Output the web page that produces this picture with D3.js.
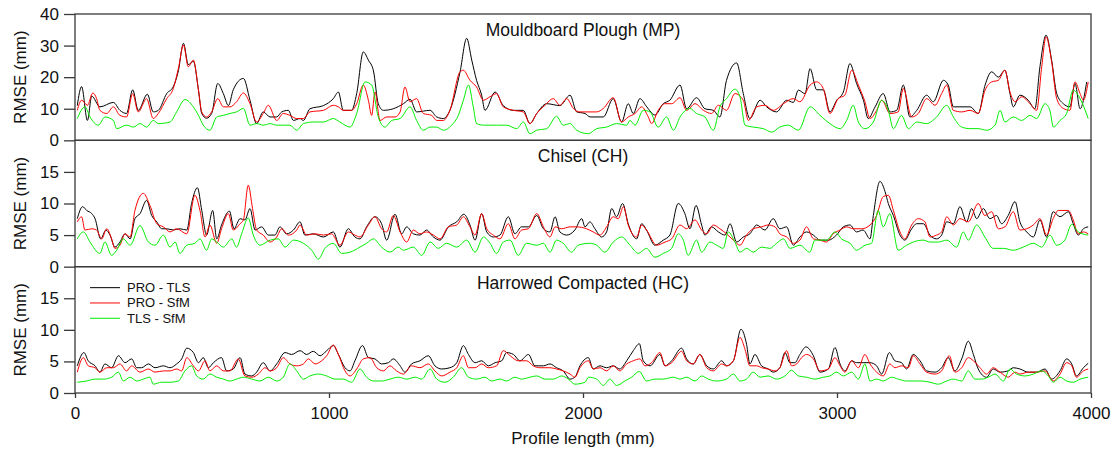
<!DOCTYPE html>
<html>
<head>
<meta charset="utf-8">
<script src="https://cdn.jsdelivr.net/npm/d3@7"></script>
<style>
  body { margin: 0; background: #fff; }
  text { font-family: "Liberation Sans", Arial, sans-serif; fill: #111; }
</style>
</head>
<body>
<svg id="chart" width="1113" height="450"></svg>
<script>
// RMSE along the profile, [position (mm), rmse (mm)]

// Mouldboard Plough (MP)
const mpProTls = [[9,11],[26,17],[49,6.3],[66,14],[98,10.6],[151,12],[177,9.5],[203,8.5],[227,16],[249,9.5],[285,14.6],[308,9],[328,9.5],[361,14.8],[387,17],[407,22],[427,30.7],[446,24],[466,25],[486,16],[499,8.5],[518,7],[538,8.5],[562,18],[584,14.8],[604,11],[623,16],[663,19.6],[689,12.7],[715,5.3],[741,9],[768,7.4],[794,7.4],[814,9],[840,9.5],[860,6.3],[886,6.9],[899,6.3],[925,10],[978,11],[1017,13.2],[1037,15.3],[1056,9.5],[1089,9.5],[1109,14.8],[1135,28],[1155,25.4],[1175,22],[1194,11.6],[1214,9.5],[1253,10],[1293,11.6],[1319,13],[1345,9],[1398,9.5],[1424,7.4],[1450,6.9],[1476,9.5],[1516,21.7],[1542,32.3],[1562,25.4],[1581,19],[1601,14.3],[1614,9.5],[1654,15.3],[1686,11],[1726,9.5],[1765,9.5],[1791,5.3],[1818,8.5],[1857,11.6],[1909,11],[1949,14.3],[1975,9],[2008,8.5],[2028,7.4],[2080,7.4],[2119,13.2],[2152,5.8],[2178,11.6],[2198,8.5],[2224,13.2],[2251,10.6],[2283,8],[2316,11.6],[2342,12.7],[2382,17.5],[2408,10],[2447,13.5],[2480,10],[2513,9.5],[2539,7.4],[2565,19],[2605,24.5],[2631,14.8],[2657,6.9],[2697,12.7],[2723,10.6],[2762,9],[2802,12.7],[2828,12],[2848,15.9],[2874,14.8],[2894,22.7],[2920,16],[2946,16],[2972,9],[2999,12.7],[3025,15.3],[3051,24.3],[3077,18],[3104,12.7],[3123,6.9],[3150,10.6],[3182,14.8],[3209,9],[3235,9.5],[3261,17.5],[3287,7.4],[3314,9.5],[3353,14.3],[3379,12.2],[3419,19],[3438,17.5],[3458,10.6],[3484,10.6],[3524,10.6],[3556,8.5],[3583,17.5],[3609,21.7],[3635,20],[3661,22.2],[3681,14.8],[3694,10.6],[3720,14.3],[3753,12.7],[3779,10],[3799,23.3],[3823,33.3],[3845,25.4],[3865,14.8],[3891,11.6],[3917,10.6],[3937,18],[3957,10],[3983,18.5]];
const mpProSfm = [[9,9.5],[26,12.7],[49,11.1],[70,15],[85,13.2],[98,9.5],[125,8.5],[151,10.6],[177,7.9],[203,7.4],[227,14.8],[249,9],[282,13.2],[308,6.9],[328,8.5],[361,13.2],[387,16.4],[407,22.8],[427,30.2],[446,23.3],[466,25.4],[486,15.9],[499,9],[518,7.4],[538,9],[562,13.2],[584,10.6],[610,10.6],[636,12.2],[663,15],[689,11.6],[715,5.8],[741,8.5],[761,11.1],[794,6.3],[820,8.5],[846,7.9],[873,6.9],[899,6.9],[925,9],[978,9.5],[1017,11.1],[1037,10.6],[1056,9.5],[1089,9.5],[1109,11.6],[1135,17.5],[1155,12.7],[1168,7.9],[1181,15.3],[1201,6.3],[1227,7.4],[1260,7.4],[1280,9],[1299,16.9],[1319,12.2],[1345,13.2],[1371,8.5],[1404,7.9],[1424,6.3],[1450,6.3],[1476,9.5],[1516,21.7],[1529,22.2],[1555,19],[1581,16.9],[1608,12.7],[1634,13.8],[1660,14.8],[1686,10.6],[1726,9.5],[1765,9],[1791,5.3],[1818,8.5],[1850,11.1],[1883,13.2],[1909,11.1],[1936,13.2],[1962,10.1],[1988,9],[2014,9],[2054,9],[2080,10.1],[2119,13.5],[2152,5.8],[2178,7.4],[2205,8.5],[2231,10.6],[2257,7.4],[2270,5.3],[2296,9.5],[2323,11.6],[2349,11.6],[2382,13.5],[2408,9.5],[2441,11.6],[2474,9.5],[2506,8.5],[2533,11.1],[2565,9.5],[2598,14.8],[2631,12.7],[2651,6.3],[2684,10.6],[2716,11.1],[2749,9.5],[2789,11.6],[2828,13.2],[2854,12.2],[2894,17.5],[2920,18.5],[2946,16.4],[2972,8.5],[3005,13.2],[3031,14.3],[3058,22.2],[3084,17.5],[3110,12.2],[3130,6.9],[3156,9.5],[3176,12.7],[3209,8.5],[3241,9],[3261,16.4],[3294,7.4],[3320,8.5],[3353,13.2],[3386,11.1],[3412,14.8],[3432,17.5],[3458,9.5],[3491,9],[3524,9.5],[3556,8.5],[3583,15.9],[3609,18.5],[3635,19],[3661,22.2],[3681,15.3],[3701,12.2],[3727,13.8],[3760,11.6],[3786,9.5],[3806,23.3],[3823,32.8],[3845,24.9],[3865,13.2],[3891,10.1],[3917,9.5],[3937,18.5],[3957,14.8],[3970,12.7],[3989,18.5]];
const mpTlsSfm = [[9,6.9],[39,10.6],[59,7.4],[92,4.8],[118,7.4],[151,6.3],[164,3.7],[203,4.8],[230,4.2],[256,5.3],[282,4.2],[308,6.3],[328,5.3],[374,5.8],[400,9],[433,12.9],[466,10.6],[486,7.9],[505,4.8],[531,3.2],[558,7.4],[584,7.9],[610,8.5],[636,9],[663,10.1],[689,4.8],[715,5.3],[741,4.8],[768,5.3],[794,4.8],[820,4.8],[846,4.8],[873,3.2],[899,5.3],[938,5.8],[978,5.8],[1017,6.9],[1043,5.8],[1083,4.2],[1109,8.5],[1142,18.5],[1168,17.5],[1194,7.4],[1220,4.2],[1247,6.3],[1280,6.9],[1319,10.6],[1345,6.3],[1371,3.2],[1398,4.2],[1424,4.2],[1450,3.2],[1483,4.8],[1509,7.9],[1529,12.7],[1549,17.5],[1568,10.6],[1581,5.3],[1608,4.8],[1660,4.8],[1699,4.8],[1739,3.7],[1765,5.8],[1791,2.1],[1818,3.2],[1857,3.7],[1896,7.6],[1922,4.8],[1949,5.3],[1975,3.2],[2021,2.1],[2054,3.7],[2093,4.2],[2132,5.3],[2172,4.8],[2185,6.3],[2205,4.8],[2237,9.5],[2264,9],[2296,4.2],[2329,7.4],[2356,3.2],[2382,7.4],[2421,10.1],[2447,8.5],[2480,7.4],[2513,3.2],[2539,10.6],[2565,13.2],[2598,16.2],[2618,13.8],[2638,4.8],[2670,4.2],[2710,3.7],[2743,2.6],[2775,4.2],[2808,4.8],[2848,3.2],[2894,10.6],[2933,7.9],[2972,5.3],[3012,3.7],[3038,6.3],[3064,11.1],[3084,5.8],[3110,3.7],[3143,5.8],[3176,12.7],[3202,9.5],[3222,3.7],[3254,7.9],[3281,3.7],[3314,5.8],[3353,5.3],[3392,7.4],[3432,11.1],[3458,7.4],[3491,4.2],[3524,3.7],[3556,3.7],[3589,3.2],[3622,4.8],[3642,9.5],[3661,5.8],[3694,7.4],[3727,6.3],[3760,7.9],[3786,6.9],[3819,11.6],[3838,9.5],[3852,4.2],[3878,6.3],[3904,8.5],[3930,15.9],[3957,13.2],[3989,6.9]];

// Chisel (CH)
const chProTls = [[9,7.6],[30,9.5],[46,8.9],[66,8.4],[79,7.6],[101,4.4],[122,5.8],[138,5.0],[157,3.1],[177,3.9],[197,5.2],[217,4.4],[236,7.6],[256,8.4],[282,10.5],[302,8.1],[322,7.1],[341,6.0],[361,6.0],[387,5.8],[413,6.0],[440,5.8],[459,10],[482,12.5],[499,8.9],[518,5.0],[542,8.9],[558,4.4],[577,6.6],[608,8.8],[626,6.0],[650,7.6],[669,7.4],[689,9.2],[709,5.8],[735,6.3],[761,5.0],[787,5.0],[807,6.3],[833,5.2],[860,5.8],[886,7.1],[905,5.0],[938,5.2],[978,4.7],[1017,5.5],[1043,3.1],[1076,6.0],[1102,4.7],[1122,4.4],[1148,6.3],[1181,7.9],[1207,6.8],[1227,4.2],[1260,8.3],[1286,5.2],[1306,6.3],[1332,5.2],[1358,5.0],[1384,5.8],[1411,4.7],[1437,4.2],[1470,6.3],[1503,7.1],[1531,8.3],[1555,6.6],[1575,4.2],[1601,8.4],[1621,5.5],[1647,4.7],[1673,5.0],[1706,7.9],[1732,5.2],[1758,6.3],[1785,6.3],[1818,8.1],[1844,6.0],[1870,5.5],[1890,7.9],[1909,5.5],[1936,5.0],[1968,5.8],[1995,7.6],[2008,6.3],[2027,7.1],[2047,6.0],[2073,4.7],[2093,5.5],[2113,9.2],[2132,7.9],[2156,10],[2178,6.8],[2211,4.4],[2231,6.8],[2250,5.8],[2283,3.4],[2316,4.2],[2342,5.0],[2375,10],[2401,8.4],[2421,6.0],[2445,9.7],[2467,6.6],[2480,5.0],[2506,6.3],[2533,5.5],[2559,5.0],[2579,6.8],[2605,3.9],[2631,4.7],[2657,5.2],[2684,6.6],[2716,5.8],[2749,7.6],[2775,6.0],[2802,6.3],[2828,3.4],[2854,4.7],[2880,5.5],[2907,5.0],[2933,4.2],[2966,4.2],[2998,5.0],[3025,6.3],[3051,6.6],[3077,5.5],[3103,5.8],[3130,4.4],[3143,8.1],[3169,13.5],[3189,11.9],[3202,10],[3222,8.1],[3248,5.0],[3267,4.2],[3294,6.0],[3313,6.8],[3340,6.8],[3366,5.0],[3392,4.4],[3412,5.0],[3432,7.1],[3458,6.8],[3484,9.5],[3510,7.1],[3530,9.2],[3550,7.6],[3576,9.2],[3602,7.6],[3628,8.1],[3648,6.8],[3674,8.1],[3701,10.3],[3720,7.1],[3747,5.5],[3773,4.7],[3799,7.4],[3825,4.7],[3851,8.7],[3878,7.9],[3911,8.7],[3930,6.8],[3950,5.0],[3970,6.0],[3989,6.3]];
const chProSfm = [[9,7.1],[26,7.9],[39,5.8],[66,6.0],[85,5.8],[105,4.4],[125,6.0],[144,4.4],[157,2.9],[177,3.4],[197,5.2],[217,4.7],[236,8.9],[269,11.6],[295,9.7],[322,6.8],[348,6.3],[374,5.5],[400,6.0],[440,5.2],[472,11.3],[492,8.9],[512,4.7],[531,6.6],[558,3.7],[577,6.0],[604,8.4],[623,5.8],[650,6.8],[663,7.4],[682,12.9],[699,9.2],[715,5.8],[741,5.0],[768,3.9],[794,4.7],[814,6.0],[840,5.0],[873,5.8],[886,6.6],[912,5.0],[945,5.2],[978,5.0],[1010,5.2],[1043,3.4],[1076,5.5],[1102,5.0],[1122,4.7],[1155,6.6],[1181,7.9],[1207,6.0],[1227,5.5],[1253,8.1],[1280,5.5],[1306,3.9],[1332,5.8],[1358,5.2],[1384,5.5],[1411,5.0],[1437,4.4],[1470,6.3],[1503,6.6],[1529,7.9],[1555,6.3],[1575,5.0],[1601,8.4],[1621,6.0],[1647,5.0],[1673,4.4],[1706,6.8],[1732,4.4],[1758,5.8],[1785,6.0],[1818,8.4],[1844,6.3],[1870,4.7],[1890,6.3],[1916,6.0],[1949,6.3],[1975,6.3],[2014,6.0],[2040,5.5],[2067,5.0],[2093,6.3],[2119,7.9],[2139,7.6],[2159,9.5],[2178,6.6],[2211,4.7],[2231,6.6],[2250,5.8],[2290,3.4],[2323,3.9],[2349,4.4],[2382,6.6],[2408,6.0],[2441,7.4],[2467,5.8],[2487,5.2],[2513,6.6],[2539,6.0],[2565,5.2],[2592,4.2],[2618,3.4],[2644,5.0],[2670,6.0],[2703,6.3],[2729,6.6],[2756,6.3],[2775,5.2],[2802,4.7],[2828,3.7],[2854,4.2],[2880,6.3],[2907,4.4],[2933,4.2],[2959,3.9],[2985,5.2],[3012,5.8],[3038,6.3],[3064,6.0],[3097,6.0],[3130,6.6],[3156,8.1],[3182,11.1],[3202,11.3],[3222,8.9],[3248,5.5],[3267,4.4],[3294,6.6],[3320,7.6],[3346,7.1],[3366,4.7],[3392,5.0],[3412,5.5],[3432,7.9],[3458,6.6],[3484,7.6],[3517,7.1],[3556,10],[3582,8.1],[3609,8.7],[3635,6.0],[3661,6.3],[3694,8.7],[3720,5.8],[3747,6.0],[3773,6.6],[3799,7.6],[3825,5.0],[3851,7.6],[3871,8.9],[3911,8.9],[3930,7.4],[3950,5.2],[3970,5.5],[3989,5.2]];
const chTlsSfm = [[9,4.4],[33,5.5],[59,3.9],[98,2.1],[118,3.9],[144,1.8],[164,2.6],[190,4.4],[217,3.4],[256,6.5],[289,3.9],[315,3.4],[348,5.0],[374,3.1],[394,3.9],[413,2.1],[440,3.4],[472,3.7],[492,4.4],[518,2.6],[538,4.4],[558,3.9],[584,3.1],[617,4.4],[636,3.1],[656,5.2],[682,7.7],[702,5.0],[728,3.4],[768,4.2],[800,4.4],[827,3.1],[860,4.2],[899,3.7],[932,2.6],[958,1.2],[984,2.9],[1017,3.7],[1050,2.1],[1083,2.3],[1122,3.1],[1148,3.7],[1175,4.4],[1207,3.1],[1240,2.3],[1273,3.1],[1293,2.6],[1332,3.1],[1365,1.8],[1398,3.9],[1430,2.9],[1463,3.7],[1503,3.1],[1542,4.2],[1575,2.3],[1608,4.7],[1634,3.7],[1660,2.1],[1686,3.9],[1713,4.2],[1745,1.8],[1778,3.7],[1818,3.4],[1844,3.7],[1870,2.3],[1896,4.2],[1922,3.7],[1955,2.3],[1981,3.4],[2027,3.7],[2054,3.4],[2086,2.3],[2119,3.9],[2152,4.7],[2185,3.4],[2218,2.1],[2250,2.9],[2283,1.5],[2316,2.1],[2349,2.9],[2375,5.2],[2395,4.2],[2414,1.8],[2447,4.2],[2467,2.3],[2500,3.9],[2526,3.4],[2552,2.9],[2572,5.5],[2598,3.9],[2618,2.3],[2644,2.9],[2670,2.3],[2703,3.1],[2736,2.9],[2762,3.7],[2789,4.4],[2815,2.9],[2854,3.4],[2893,2.3],[2913,4.2],[2959,4.2],[2992,5.5],[3018,4.4],[3051,3.7],[3077,2.6],[3110,3.4],[3136,3.7],[3162,8.9],[3182,6.3],[3208,8.4],[3241,2.6],[3274,3.4],[3300,3.9],[3340,4.2],[3366,3.9],[3399,3.9],[3432,4.2],[3471,3.1],[3497,5.5],[3517,4.2],[3550,6.6],[3582,4.7],[3615,2.9],[3655,2.9],[3694,2.6],[3733,3.1],[3773,3.7],[3806,3.1],[3838,5.0],[3865,3.4],[3897,4.2],[3924,6.7],[3950,5.5],[3989,5.0]];

// Harrowed Compacted (HC)
const hcProTls = [[9,4.3],[35,6.4],[52,5.1],[79,4.3],[98,3.3],[118,4.6],[144,4.0],[171,5.9],[197,4.8],[223,5.4],[243,4.0],[262,4.0],[289,4.6],[315,4.0],[348,4.3],[374,4.0],[400,4.6],[420,5.4],[440,7.1],[466,6.4],[486,4.8],[505,5.6],[525,4.0],[545,4.8],[577,5.6],[597,3.5],[623,3.8],[650,5.6],[669,3.0],[696,2.7],[715,3.3],[741,4.8],[768,3.5],[794,4.6],[827,6.4],[853,6.1],[886,6.7],[912,6.1],[938,6.6],[965,5.9],[991,6.7],[1017,7.5],[1037,6.1],[1063,4.0],[1083,3.5],[1102,5.1],[1132,7.5],[1155,5.6],[1181,5.4],[1207,4.6],[1234,4.8],[1253,5.4],[1280,4.3],[1299,3.3],[1325,4.6],[1358,5.1],[1391,5.9],[1417,4.3],[1444,3.8],[1476,4.0],[1503,4.8],[1529,7.5],[1549,6.1],[1575,4.8],[1601,5.1],[1627,4.3],[1654,4.8],[1680,5.1],[1699,6.4],[1726,6.1],[1752,5.1],[1785,6.1],[1811,4.3],[1844,4.3],[1870,4.6],[1896,4.0],[1922,3.5],[1949,2.2],[1968,2.5],[1988,4.3],[2021,5.6],[2040,3.8],[2067,4.3],[2093,4.0],[2119,4.3],[2145,3.8],[2172,5.1],[2198,6.7],[2222,7.8],[2237,5.1],[2264,4.3],[2303,6.1],[2323,4.3],[2349,5.1],[2388,7.1],[2408,5.4],[2434,4.6],[2460,6.1],[2487,4.3],[2513,3.8],[2546,5.1],[2565,4.3],[2592,5.1],[2622,10.1],[2644,7.7],[2657,4.6],[2677,6.1],[2703,4.3],[2729,3.8],[2749,3.3],[2775,4.0],[2795,6.4],[2815,4.8],[2834,4.8],[2854,6.1],[2878,7.3],[2907,5.9],[2933,3.3],[2966,3.8],[2992,7.2],[3012,4.6],[3031,3.5],[3058,5.1],[3077,4.8],[3103,4.8],[3130,4.8],[3156,4.3],[3176,3.0],[3206,6.4],[3228,5.1],[3254,4.8],[3274,3.8],[3300,6.1],[3327,5.1],[3353,3.5],[3386,3.3],[3412,4.0],[3438,5.6],[3464,3.5],[3491,5.4],[3517,8.2],[3537,6.1],[3556,3.8],[3589,2.5],[3615,3.8],[3642,3.3],[3674,3.5],[3694,4.0],[3720,3.8],[3753,3.3],[3786,3.3],[3819,3.8],[3845,2.2],[3878,3.5],[3904,5.4],[3924,4.6],[3943,2.7],[3970,4.0],[3989,4.7]];
const hcProSfm = [[9,3.3],[33,5.6],[52,4.3],[79,4.0],[98,3.3],[125,4.0],[151,4.0],[177,4.6],[203,3.5],[223,4.3],[256,3.3],[289,3.8],[315,3.3],[348,3.5],[374,3.5],[400,3.8],[420,3.5],[440,5.6],[466,4.3],[486,3.5],[512,5.1],[531,3.5],[558,4.3],[584,3.5],[610,3.5],[643,5.4],[669,2.7],[696,2.5],[722,3.0],[748,4.0],[768,3.5],[794,4.0],[820,5.6],[846,4.6],[873,4.3],[899,4.6],[919,5.4],[945,4.6],[971,5.1],[991,5.9],[1017,7.6],[1037,6.1],[1063,3.5],[1083,2.7],[1109,3.8],[1135,5.4],[1161,5.6],[1188,4.0],[1214,3.5],[1240,4.3],[1266,3.5],[1293,3.0],[1325,4.3],[1358,4.0],[1391,4.6],[1417,3.5],[1444,2.7],[1476,3.3],[1503,4.0],[1529,5.9],[1549,4.0],[1575,4.0],[1601,4.6],[1627,4.0],[1660,4.3],[1686,6.7],[1713,5.9],[1745,5.1],[1778,5.1],[1804,4.3],[1831,4.0],[1870,4.0],[1896,3.8],[1922,3.5],[1949,3.0],[1968,2.5],[1988,4.0],[2021,5.1],[2040,3.8],[2067,4.0],[2093,3.5],[2119,4.3],[2145,3.5],[2172,4.6],[2198,5.1],[2224,5.4],[2244,4.3],[2270,4.8],[2303,6.4],[2323,4.3],[2349,4.8],[2388,6.6],[2408,5.1],[2434,4.6],[2460,6.1],[2487,4.0],[2513,3.5],[2546,4.6],[2565,4.3],[2592,5.1],[2618,8.8],[2638,6.9],[2657,4.3],[2684,4.3],[2703,4.0],[2729,3.8],[2756,3.5],[2775,4.0],[2802,6.7],[2821,4.3],[2841,4.6],[2861,5.6],[2880,6.1],[2907,5.4],[2933,3.5],[2966,3.8],[2992,5.6],[3012,4.3],[3031,3.3],[3058,5.1],[3084,4.0],[3110,6.1],[3130,4.6],[3156,3.3],[3182,2.7],[3208,4.6],[3228,4.0],[3254,4.3],[3281,4.0],[3300,5.9],[3327,4.6],[3353,3.3],[3386,3.0],[3412,3.5],[3442,5.9],[3464,3.3],[3491,4.0],[3517,5.6],[3537,5.1],[3563,4.0],[3589,3.0],[3615,4.0],[3642,3.3],[3674,2.5],[3701,3.3],[3720,3.0],[3753,3.3],[3786,3.3],[3819,3.5],[3852,1.9],[3878,3.0],[3904,4.8],[3924,4.3],[3943,2.5],[3970,3.5],[3989,3.8]];
const hcTlsSfm = [[9,1.7],[46,1.9],[79,2.2],[112,2.2],[144,2.5],[171,3.3],[190,1.9],[217,2.5],[243,1.9],[269,2.2],[295,2.5],[308,1.4],[341,1.7],[374,1.7],[407,1.9],[433,3.5],[459,4.3],[479,2.7],[505,2.2],[531,3.0],[558,2.5],[584,2.2],[610,1.9],[636,2.2],[663,2.5],[696,2.2],[728,1.9],[761,2.5],[794,1.9],[820,2.5],[846,4.6],[873,3.5],[899,2.2],[925,2.7],[958,3.0],[991,2.7],[1024,2.2],[1056,2.2],[1089,1.7],[1122,3.8],[1148,2.5],[1175,1.9],[1207,1.9],[1240,2.2],[1273,2.5],[1306,2.2],[1339,2.5],[1365,2.2],[1398,3.8],[1424,2.2],[1457,1.7],[1489,2.5],[1522,4.0],[1549,2.5],[1581,2.2],[1614,2.5],[1640,1.9],[1673,2.2],[1699,1.9],[1732,2.5],[1758,2.2],[1791,2.5],[1818,2.7],[1850,2.2],[1883,2.2],[1916,2.7],[1942,2.2],[1968,1.4],[2008,1.7],[2021,2.5],[2054,2.2],[2080,1.2],[2106,2.2],[2132,1.2],[2165,1.9],[2191,2.5],[2222,3.4],[2250,1.9],[2283,2.2],[2316,2.2],[2356,2.5],[2382,2.2],[2408,2.5],[2441,1.9],[2467,2.7],[2493,2.2],[2526,1.9],[2565,2.2],[2592,3.0],[2618,1.9],[2644,2.2],[2670,3.3],[2697,2.5],[2729,2.7],[2762,2.2],[2795,2.7],[2821,3.6],[2848,2.7],[2880,2.5],[2913,2.2],[2946,2.5],[2972,2.7],[2998,3.3],[3025,2.7],[3058,3.3],[3084,2.2],[3110,4.6],[3130,1.9],[3156,2.2],[3182,1.9],[3215,2.5],[3241,2.2],[3274,1.9],[3300,1.9],[3333,1.9],[3366,1.7],[3399,1.4],[3432,1.9],[3458,2.2],[3491,1.9],[3517,3.5],[3543,2.2],[3569,2.2],[3596,2.5],[3622,3.0],[3655,1.9],[3681,3.8],[3707,3.0],[3740,2.7],[3773,3.0],[3806,3.5],[3832,2.7],[3852,1.7],[3878,2.5],[3904,1.9],[3930,1.7],[3957,2.2],[3989,2.5]];

const seriesNames = ["PRO - TLS", "PRO - SfM", "TLS - SfM"];
const seriesColors = ["#000000", "#ff0000", "#00ee00"];
const xTicks = [0, 1000, 2000, 3000, 4000];

const panels = [
  { title: "Mouldboard Plough (MP)", yMax: 40, yTicks: [0, 10, 20, 30, 40], series: [mpProTls, mpProSfm, mpTlsSfm] },
  { title: "Chisel (CH)",            yMax: 20, yTicks: [0, 5, 10, 15],      series: [chProTls, chProSfm, chTlsSfm] },
  { title: "Harrowed Compacted (HC)", yMax: 20, yTicks: [0, 5, 10, 15],     series: [hcProTls, hcProSfm, hcTlsSfm] }
];

const plotLeft = 75, plotRight = 1091, plotTop = 14, plotBottom = 393;
const panelH = (plotBottom - plotTop) / panels.length;

const svg = d3.select("#chart");

const x = d3.scaleLinear().domain([0, 4000]).range([plotLeft, plotRight]);

panels.forEach((p, i) => {
  const top = plotTop + i * panelH;
  const bottom = top + panelH;
  const y = d3.scaleLinear().domain([0, p.yMax]).range([bottom, top]);

  const g = svg.append("g");

  // series lines
  const line = d3.line().curve(d3.curveMonotoneX).x(d => x(d[0])).y(d => y(d[1]));
  p.series.forEach((s, k) => {
    g.append("path")
      .datum(s)
      .attr("fill", "none")
      .attr("stroke", seriesColors[k])
      .attr("stroke-width", 1)
      .attr("d", line);
  });

  // left axis
  const ya = g.append("g")
    .attr("transform", `translate(${plotLeft},0)`)
    .call(d3.axisLeft(y).tickValues(p.yTicks).tickSize(11).tickPadding(5));
  ya.select(".domain").remove();
  ya.selectAll(".tick line").attr("stroke", "#3a3a3a").attr("stroke-width", 1.3);
  ya.selectAll(".tick text")
    .attr("font-size", 17)
    .attr("fill", "#111")
    .style("font-family", "'Liberation Sans', Arial, sans-serif");

  // panel frame
  g.append("rect")
    .attr("x", plotLeft).attr("y", top)
    .attr("width", plotRight - plotLeft).attr("height", panelH)
    .attr("fill", "none")
    .attr("stroke", "#3a3a3a")
    .attr("stroke-width", 1.3);

  g.append("text")
    .attr("x", (plotLeft + plotRight) / 2)
    .attr("y", top + 22)
    .attr("text-anchor", "middle")
    .attr("font-size", 17.5)
    .text(p.title);

  g.append("text")
    .attr("transform", `translate(26,${(top + bottom) / 2}) rotate(-90)`)
    .attr("text-anchor", "middle")
    .attr("font-size", 17)
    .text("RMSE (mm)");
});

// bottom axis
const xa = svg.append("g")
  .attr("transform", `translate(0,${plotBottom})`)
  .call(d3.axisBottom(x).tickValues(xTicks).tickFormat(d3.format("d")).tickSize(5).tickPadding(9));
xa.select(".domain").remove();
xa.selectAll(".tick line").attr("stroke", "#3a3a3a").attr("stroke-width", 1.3);
xa.selectAll(".tick text")
  .attr("font-size", 17)
  .attr("fill", "#111")
  .style("font-family", "'Liberation Sans', Arial, sans-serif");

svg.append("text")
  .attr("x", (plotLeft + plotRight) / 2)
  .attr("y", 444)
  .attr("text-anchor", "middle")
  .attr("font-size", 17)
  .text("Profile length (mm)");

// legend in the bottom panel
const legend = svg.append("g").attr("transform", `translate(90,${plotTop + 2 * panelH + 21})`);
seriesNames.forEach((name, k) => {
  const row = legend.append("g").attr("transform", `translate(0,${k * 15.3})`);
  row.append("line")
    .attr("x1", 0).attr("x2", 30)
    .attr("stroke", seriesColors[k]).attr("stroke-width", 1);
  row.append("text")
    .attr("x", 37).attr("y", 4.5)
    .attr("font-size", 13)
    .text(name);
});
</script>
</body>
</html>
